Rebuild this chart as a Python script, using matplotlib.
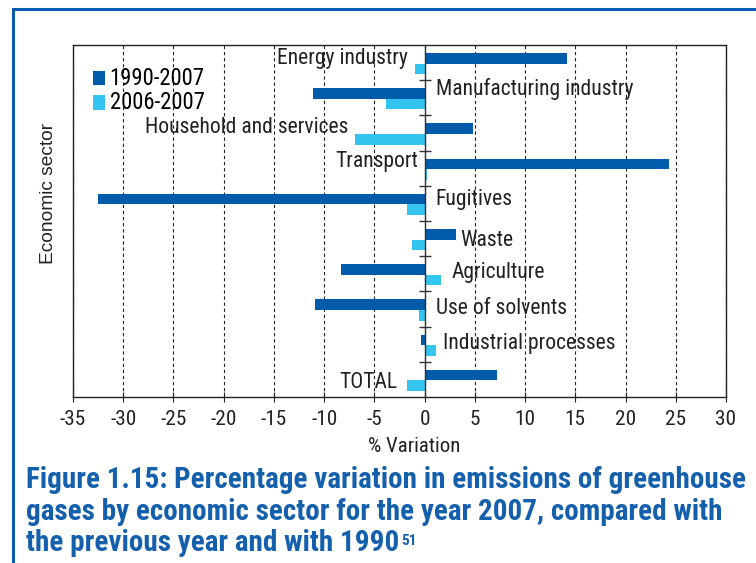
import numpy as np
import matplotlib.pyplot as plt
from matplotlib.patches import Rectangle

sectors = ["Energy industry", "Manufacturing industry", "Household and services",
           "Transport", "Fugitives", "Waste", "Agriculture", "Use of solvents",
           "Industrial processes", "TOTAL"]
var_1990_2007 = [14.2, -11.1, 4.8, 24.3, -32.5, 3.1, -8.3, -10.9, -0.4, 7.2]
var_2006_2007 = [-1.0, -3.8, -6.9, 0.2, -1.8, -1.3, 1.6, -0.6, 1.1, -1.8]
series_names = ["1990-2007", "2006-2007"]
xticks = list(range(-35, 31, 5))

# where each sector name sits: (x in %, y offset in bands, alignment)
label_pos = [(-1.7, -0.13, "right"), (1.1, -0.25, "left"), (-7.6, -0.15, "right"),
             (-0.6, -0.18, "right"), (1.1, -0.1, "left"), (3.5, 0.05, "left"),
             (2.65, -0.04, "left"), (1.1, 0.0, "left"), (1.85, -0.02, "left"),
             (-2.7, 0.08, "right")]

dark = "#005bab"
light = "#33c4f0"
cap_blue = "#1560ad"
txt = "#222222"
cond = ["Roboto Condensed", "Archivo Narrow", "DejaVu Sans"]


def fit(items, ref, target, vertical=False):
    # scale font of items so that ref text is target px long
    bb = ref.get_window_extent()
    w = bb.height if vertical else bb.width
    s = ref.get_fontsize() * target / w
    for t in items:
        t.set_fontsize(s)
    return s


fig = plt.figure(figsize=(7.56, 5.63), dpi=100)
ax = fig.add_axes([73 / 756, 1 - 397 / 563, 653 / 756, 352 / 563])

y = np.arange(len(sectors))
h = 0.3
ax.barh(y - 0.12, var_1990_2007, height=h, color=dark, label=series_names[0], zorder=3)
ax.barh(y + 0.18, var_2006_2007, height=h, color=light, label=series_names[1], zorder=3)

ax.set_xlim(-35, 30)
ax.set_ylim(len(sectors) - 0.5, -0.5)
ax.set_xticks(xticks)
ax.set_xticklabels([str(t) for t in xticks], family=cond, fontsize=13, color=txt)
ax.set_yticks([])
ax.tick_params(axis="x", direction="inout", length=7, width=0.8, pad=6, colors=txt)
ax.grid(axis="x", color=txt, linestyle=(0, (3, 2.5)), linewidth=0.8, zorder=1)
for s in ax.spines.values():
    s.set_linewidth(1.0)
    s.set_color(txt)

# zero axis with band ticks
ax.axvline(0, color="#333333", linewidth=1.0, zorder=4)
bounds = np.arange(len(sectors) - 1) + 0.5
ax.plot(np.zeros_like(bounds), bounds, ls="none", marker="_", markersize=8,
        color="#333333", markeredgewidth=1.0, zorder=4)

labels = []
for i, (name, (lx, dy, ha)) in enumerate(zip(sectors, label_pos)):
    labels.append(ax.text(lx, i + dy, name, ha=ha, va="center", family=cond,
                          fontsize=13.5, color=txt, zorder=5))

ax.set_xlabel("% Variation", family=cond, fontsize=13, color=txt)
ax.xaxis.set_label_coords(0.522, -0.115)
ax.set_ylabel("Economic sector", fontsize=12, color=txt,
              family=["Liberation Sans", "DejaVu Sans"])
ax.yaxis.set_label_coords(-0.024, 0.577)

leg = ax.legend(loc="upper left", bbox_to_anchor=(0.03, 0.938), frameon=False,
                handlelength=0.62, handleheight=0.75, handletextpad=0.25,
                labelspacing=0.08, borderaxespad=0, borderpad=0,
                prop={"family": cond, "size": 14})

# figure frame
fig.patches.append(Rectangle((13 / 756, -0.1), 1.2, 1 - 9 / 563 + 0.1,
                             transform=fig.transFigure, fill=False,
                             edgecolor="#0a5cb0", linewidth=2.2))

cap_lines = ["Figure 1.15: Percentage variation in emissions of greenhouse",
             "gases by economic sector for the year 2007, compared with",
             "the previous year and with 1990"]
cap_y = [480, 512, 543]
caps = []
for line, cy in zip(cap_lines, cap_y):
    caps.append(fig.text(26 / 756, 1 - cy / 563, line, ha="left", va="center",
                         family=cond, fontweight="bold", fontsize=16,
                         color=cap_blue))

# match text sizes to the reference
fig.canvas.draw()
fit(caps, caps[0], 719)
fit(labels, labels[0], 131)
fit([ax.xaxis.label], ax.xaxis.label, 92)
fit([ax.yaxis.label], ax.yaxis.label, 142, vertical=True)
ticklabels = ax.get_xticklabels()
fit(ticklabels, ticklabels[0], 26)
leg_texts = leg.get_texts()
fit(leg_texts, leg_texts[0], 96)
fig.canvas.draw()
bb = caps[2].get_window_extent()
fig.text(bb.x1 / 756 + 0.002, 1 - 534 / 563, "51", ha="left", va="top",
         family=cond, fontweight="bold", fontsize=11, color=cap_blue)

fig.savefig("out.png", dpi=100)
